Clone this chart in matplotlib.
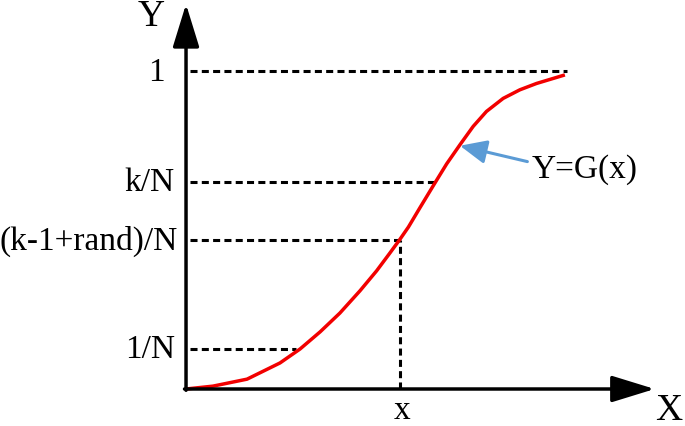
import matplotlib
matplotlib.use("Agg")
import matplotlib.pyplot as plt

# curve Y = G(x) (x: 0..1 = axis origin..curve end, y: 0..1)
curve_x = [0.0, 0.071, 0.161, 0.248, 0.301, 0.354, 0.406, 0.459, 0.503, 0.538, 0.565,
           0.587, 0.617, 0.653, 0.688, 0.723, 0.758, 0.793, 0.837, 0.881, 0.925, 1.0]
curve_y = [0.0, 0.009, 0.031, 0.082, 0.126, 0.180, 0.239, 0.309, 0.372, 0.428, 0.472,
           0.510, 0.570, 0.641, 0.709, 0.769, 0.827, 0.874, 0.915, 0.942, 0.962, 0.989]

# horizontal guide levels and where their dashes meet the curve
level_labels = ["1/N", "(k-1+rand)/N", "k/N", "1"]
level_y = [0.126, 0.469, 0.652, 1.0]
level_x_end = [0.29, 0.565, 0.662, 1.005]
label_right = [-0.030, -0.021, -0.030, -0.055]

# sampled point x
sample_x = 0.565
sample_y = 0.469

# pointer for the curve label
pointer_tip = (0.723, 0.766)
pointer_tail = (0.901, 0.716)

fig = plt.figure(figsize=(6.85, 4.27), dpi=100)
ax = fig.add_axes([0, 0, 1, 1])
ax.set_xlim(-0.491, 1.317)
ax.set_ylim(-0.1165, 1.228)
ax.axis("off")

serif = "Liberation Serif"
fs = 24
dash = (0, (2.3, 1.4))

# guide lines
for lab, yv, xe, xr in zip(level_labels, level_y, level_x_end, label_right):
    ax.plot([0.01, xe], [yv, yv], color="black", lw=2.2, linestyle=dash, dash_capstyle="butt")
    ax.text(xr, yv, lab, ha="right", va="center", fontsize=fs, family=serif)

ax.plot([sample_x, sample_x], [0, sample_y], color="black", lw=2.2, linestyle=dash,
        dash_capstyle="butt")
ax.text(sample_x + 0.005, -0.090, "x", ha="center", va="baseline", fontsize=fs, family=serif)

# the curve
ax.plot(curve_x, curve_y, color="#f20000", lw=2.5, solid_joinstyle="round",
        solid_capstyle="butt", zorder=3)

# axes with arrow heads
arrow_style = "-|>,head_length=1.33,head_width=0.41"
ax.annotate("", xy=(0, 1.212), xytext=(0, -0.004),
            arrowprops=dict(arrowstyle=arrow_style, color="black", lw=2.5,
                            mutation_scale=20, shrinkA=0, shrinkB=0))
ax.annotate("", xy=(1.237, 0), xytext=(-0.004, 0),
            arrowprops=dict(arrowstyle=arrow_style, color="black", lw=2.5,
                            mutation_scale=20, shrinkA=0, shrinkB=0))
ax.text(-0.091, 1.146, "Y", ha="center", va="baseline", fontsize=27, family=serif)
ax.text(1.237, -0.093, "X", ha="left", va="baseline", fontsize=27, family=serif)

# label with blue pointer
ax.annotate("", xy=pointer_tip, xytext=pointer_tail,
            arrowprops=dict(arrowstyle="-|>,head_length=0.9,head_width=0.4",
                            color="#5b9bd5", lw=2.2, mutation_scale=18,
                            shrinkA=0, shrinkB=0))
ax.text(0.912, 0.695, "Y=G(x)", ha="left", va="center", fontsize=fs, family=serif)

fig.savefig("out.png", dpi=100)
